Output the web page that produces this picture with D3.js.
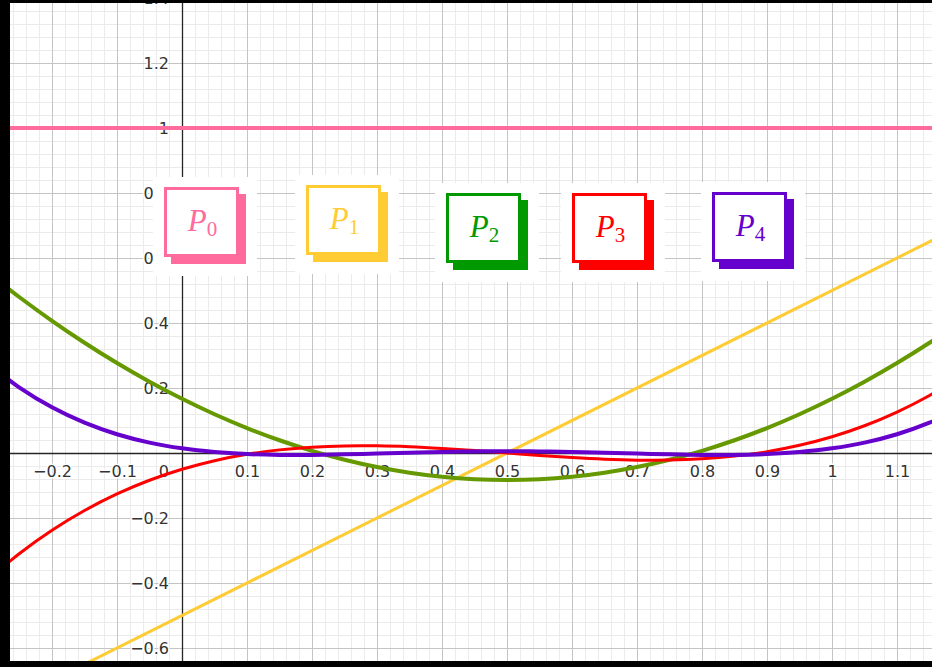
<!DOCTYPE html>
<html>
<head>
<meta charset="utf-8">
<script src="https://cdn.jsdelivr.net/npm/d3@7/dist/d3.min.js"></script>
<style>
  html, body { margin: 0; padding: 0; background: #fff; }
  svg { display: block; }
</style>
</head>
<body>
<svg id="chart" width="932" height="667"></svg>
<script>
// Sample abscissae shared by the curved series
const xs = [-0.3, -0.25, -0.2, -0.15, -0.1, -0.05, 0, 0.05, 0.1, 0.15, 0.2, 0.25, 0.3, 0.35, 0.4,
            0.45, 0.5, 0.55, 0.6, 0.65, 0.7, 0.75, 0.8, 0.85, 0.9, 0.95, 1.0, 1.05, 1.1, 1.15, 1.2];

// Series values
const p0X = [-0.3, 1.2];
const p0Y = [1, 1];
const p1X = [-0.3, 1.2];
const p1Y = [-0.8, 0.7];
const p2Y = [0.5567, 0.4792, 0.4067, 0.3392, 0.2767, 0.2192, 0.1667, 0.1192, 0.0767, 0.0392, 0.0067,
             -0.0208, -0.0433, -0.0608, -0.0733, -0.0808, -0.0833, -0.0808, -0.0733, -0.0608, -0.0433,
             -0.0208, 0.0067, 0.0392, 0.0767, 0.1192, 0.1667, 0.2192, 0.2767, 0.3392, 0.4067];
const p3Y = [-0.392, -0.3094, -0.238, -0.1771, -0.126, -0.0839, -0.05, -0.0236, -0.004, 0.0096, 0.018,
             0.0219, 0.022, 0.0191, 0.014, 0.0074, 0, -0.0074, -0.014, -0.0191, -0.022,
             -0.0219, -0.018, -0.0096, 0.004, 0.0236, 0.05, 0.0839, 0.126, 0.1771, 0.238];
const p4Y = [0.2778, 0.2012, 0.1405, 0.0933, 0.0578, 0.032, 0.0143, 0.003, -0.0033, -0.0059, -0.0058,
             -0.0041, -0.0016, 0.001, 0.0033, 0.0048, 0.0054, 0.0048, 0.0033, 0.001, -0.0016,
             -0.0041, -0.0058, -0.0059, -0.0033, 0.003, 0.0143, 0.032, 0.0578, 0.0933, 0.1405];

// Tick labels
const xTicks = [-0.2, -0.1, 0.1, 0.2, 0.3, 0.4, 0.5, 0.6, 0.7, 0.8, 0.9, 1, 1.1];
const yTicks = [-0.6, -0.4, -0.2, 0.2, 0.4, 0.6, 0.8, 1, 1.2, 1.4];

// Legend entries
const legendNames = ["P", "P", "P", "P", "P"];
const legendSubs = ["0", "1", "2", "3", "4"];

// ---- layout & styles ----
const W = 932, H = 667;
const plot = { left: 10, top: 3, right: 932, bottom: 661 };
const seriesStyle = [
  { color: "#ff6b9d", box: "#ff6b9d", width: 4 },
  { color: "#ffcc33", box: "#ffcc33", width: 3 },
  { color: "#669900", box: "#009900", width: 4 },
  { color: "#ff0000", box: "#ff0000", width: 3 },
  { color: "#6600cc", box: "#6600cc", width: 4 }
];
// outer top-left corners of the legend squares
const legendPos = [[164, 187], [306, 185], [446, 193], [572, 193], [712, 192]];
const boxW = 75, boxH = 70, shadow = 7;

const x = d3.scaleLinear().domain([0, 1]).range([182, 832]);
const y = d3.scaleLinear().domain([0, 1]).range([453, 128]);

const svg = d3.select("#chart");
svg.append("rect").attr("width", W).attr("height", H).attr("fill", "#fff");

svg.append("defs").append("clipPath").attr("id", "plotClip")
  .append("rect")
  .attr("x", plot.left).attr("y", plot.top)
  .attr("width", plot.right - plot.left).attr("height", plot.bottom - plot.top);

const g = svg.append("g").attr("clip-path", "url(#plotClip)");

// grid: minor every 0.02 in x / 0.04 in y, major every 0.1 / 0.2
const xGrid = d3.range(-15, 60).map(i => ({ v: i * 0.02, major: i % 5 === 0 }));
const yGrid = d3.range(-18, 37).map(i => ({ v: i * 0.04, major: i % 5 === 0 }));

const grid = g.append("g");
["minor", "major"].forEach(kind => {
  const isMajor = kind === "major";
  grid.selectAll(null).data(xGrid.filter(d => d.major === isMajor)).join("line")
    .attr("x1", d => Math.round(x(d.v)) + 0.5).attr("x2", d => Math.round(x(d.v)) + 0.5)
    .attr("y1", plot.top).attr("y2", plot.bottom)
    .attr("stroke", isMajor ? "#c4c4c4" : "#ebebeb").attr("stroke-width", 1);
  grid.selectAll(null).data(yGrid.filter(d => d.major === isMajor)).join("line")
    .attr("y1", d => Math.round(y(d.v)) + 0.5).attr("y2", d => Math.round(y(d.v)) + 0.5)
    .attr("x1", plot.left).attr("x2", plot.right)
    .attr("stroke", isMajor ? "#c4c4c4" : "#ebebeb").attr("stroke-width", 1);
});

// axis lines
g.append("line")
  .attr("x1", plot.left).attr("x2", plot.right)
  .attr("y1", Math.round(y(0)) + 0.5).attr("y2", Math.round(y(0)) + 0.5)
  .attr("stroke", "#252525").attr("stroke-width", 1.3);
g.append("line")
  .attr("x1", Math.round(x(0)) + 0.5).attr("x2", Math.round(x(0)) + 0.5)
  .attr("y1", plot.top).attr("y2", plot.bottom)
  .attr("stroke", "#252525").attr("stroke-width", 1.3);

// tick labels via d3 axes
const fmt = d => String(d).replace("-", "\u2212");
const labelFont = "'DejaVu Sans', sans-serif";

const xAxis = g.append("g")
  .attr("transform", `translate(0,${y(0)})`)
  .call(d3.axisBottom(x).tickValues(xTicks).tickFormat(fmt).tickSize(0).tickPadding(13));
const yAxis = g.append("g")
  .attr("transform", `translate(${x(0)},0)`)
  .call(d3.axisLeft(y).tickValues(yTicks).tickFormat(fmt).tickSize(0).tickPadding(13));

[xAxis, yAxis].forEach(ax => {
  ax.select(".domain").remove();
  ax.attr("font-family", labelFont).attr("font-size", 16);
  ax.selectAll("text")
    .attr("fill", "#333")
    .attr("stroke", "#fff").attr("stroke-width", 3)
    .attr("stroke-linejoin", "round").attr("paint-order", "stroke");
});

// origin label
g.append("text")
  .attr("x", x(0) - 13).attr("y", y(0) + 13).attr("dy", "0.71em")
  .attr("text-anchor", "end")
  .attr("font-family", labelFont).attr("font-size", 16)
  .attr("fill", "#333")
  .attr("stroke", "#fff").attr("stroke-width", 3)
  .attr("stroke-linejoin", "round").attr("paint-order", "stroke")
  .text("0");

// curves
const series = [
  p0X.map((v, i) => [v, p0Y[i]]),
  p1X.map((v, i) => [v, p1Y[i]]),
  xs.map((v, i) => [v, p2Y[i]]),
  xs.map((v, i) => [v, p3Y[i]]),
  xs.map((v, i) => [v, p4Y[i]])
];
const lineGen = d3.line()
  .x(d => x(d[0])).y(d => y(d[1]))
  .curve(d3.curveCatmullRom.alpha(0.5));

g.append("g").selectAll("path").data(series).join("path")
  .attr("d", lineGen)
  .attr("fill", "none")
  .attr("stroke", (d, i) => seriesStyle[i].color)
  .attr("stroke-width", (d, i) => seriesStyle[i].width)
  .attr("stroke-linecap", "round")
  .attr("stroke-linejoin", "round");

// legend buttons
const legend = svg.append("g");
const items = legend.selectAll("g").data(legendNames).join("g")
  .attr("transform", (d, i) => `translate(${legendPos[i][0]},${legendPos[i][1]})`);

items.append("rect")
  .attr("x", -11).attr("y", -10)
  .attr("width", boxW + shadow + 11 + 11).attr("height", boxH + shadow + 10 + 12)
  .attr("fill", "#fff");
items.append("rect")
  .attr("x", shadow).attr("y", shadow)
  .attr("width", boxW).attr("height", boxH)
  .attr("fill", (d, i) => seriesStyle[i].box);
items.append("rect")
  .attr("x", 1.5).attr("y", 1.5)
  .attr("width", boxW - 3).attr("height", boxH - 3)
  .attr("fill", "#fff")
  .attr("stroke", (d, i) => seriesStyle[i].box)
  .attr("stroke-width", 3);

const label = items.append("text")
  .attr("x", boxW / 2 + 1).attr("y", 44)
  .attr("text-anchor", "middle")
  .attr("font-family", "'Liberation Serif', 'Times New Roman', serif")
  .attr("fill", (d, i) => seriesStyle[i].box);
label.append("tspan")
  .attr("font-style", "italic").attr("font-size", 31)
  .text(d => d);
label.append("tspan")
  .attr("font-size", 21).attr("dy", 5)
  .text((d, i) => legendSubs[i]);

// window frame
svg.append("rect").attr("x", 0).attr("y", 0).attr("width", plot.left).attr("height", H).attr("fill", "#000");
svg.append("rect").attr("x", 0).attr("y", 0).attr("width", W).attr("height", plot.top).attr("fill", "#000");
svg.append("rect").attr("x", 0).attr("y", plot.bottom).attr("width", W).attr("height", H - plot.bottom).attr("fill", "#000");
</script>
</body>
</html>
